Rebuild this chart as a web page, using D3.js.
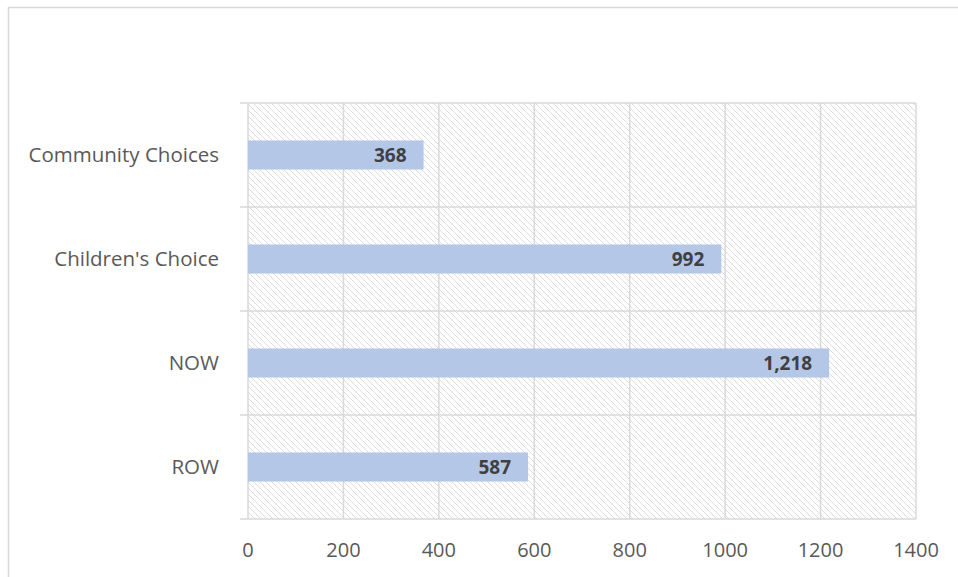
<!DOCTYPE html>
<html>
<head>
<meta charset="utf-8">
<script src="https://cdn.jsdelivr.net/npm/d3@7"></script>
<style>
  body { margin: 0; background: #fff; }
  svg { display: block; }
</style>
</head>
<body>
<svg width="958" height="577"></svg>
<script>
const categories = ["Community Choices", "Children's Choice", "NOW", "ROW"]
const values = [368, 992, 1218, 587]
const xTicks = [0, 200, 400, 600, 800, 1000, 1200, 1400]

const W = 958, H = 577
const margin = {left: 248, right: 42, top: 103, bottom: 58}
const svg = d3.select("svg")

// chart frame (runs off the right/bottom edge like the screenshot)
svg.append('rect')
  .attr('x', 8.5).attr('y', 7.5)
  .attr('width', 1200).attr('height', 1200)
  .attr('fill', '#fff')
  .attr('stroke', '#d9d9d9')
  .attr('stroke-width', 1.5)

// hatch pattern for plot background
const defs = svg.append('defs')
const pat = defs.append('pattern')
  .attr('id', 'hatch')
  .attr('patternUnits', 'userSpaceOnUse')
  .attr('width', 6).attr('height', 6)
pat.append('path')
  .attr('d', 'M-1,-1 L7,7 M-1,5 L1,7 M5,-1 L7,1')
  .attr('stroke', '#dcdcdc')
  .attr('stroke-width', 1)

const xScale = d3.scaleLinear()
  .domain([0, 1400])
  .range([margin.left, W - margin.right])

const yScale = d3.scaleBand()
  .domain(categories)
  .range([margin.top, H - margin.bottom])
  .paddingInner(0.72).paddingOuter(0.36)

const y0 = margin.top, y1 = H - margin.bottom

svg.append('rect')
  .attr('x', xScale(0)).attr('y', y0)
  .attr('width', xScale(1400) - xScale(0))
  .attr('height', y1 - y0)
  .attr('fill', 'url(#hatch)')

// vertical gridlines
svg.append('g')
  .selectAll('line')
  .data(xTicks)
  .enter()
  .append('line')
  .attr('x1', d => xScale(d)).attr('x2', d => xScale(d))
  .attr('y1', y0).attr('y2', y1)
  .attr('stroke', '#d9d9d9')
  .attr('stroke-width', 1.5)

// category boundaries (with small ticks out to the left)
const bounds = d3.range(categories.length + 1).map(i => y0 + i * (y1 - y0) / categories.length)
svg.append('g')
  .selectAll('line')
  .data(bounds)
  .enter()
  .append('line')
  .attr('x1', xScale(0) - 8).attr('x2', xScale(1400))
  .attr('y1', d => d).attr('y2', d => d)
  .attr('stroke', '#d9d9d9')
  .attr('stroke-width', 1.5)

// bars
svg.append('g')
  .selectAll('.bar')
  .data(values)
  .enter()
  .append('rect')
  .classed('bar', true)
  .attr('x', xScale(0))
  .attr('y', (d, i) => yScale(categories[i]))
  .attr('width', d => xScale(d) - xScale(0))
  .attr('height', yScale.bandwidth())
  .attr('fill', '#b4c7e7')

// data labels
svg.append('g')
  .selectAll('text')
  .data(values)
  .enter()
  .append('text')
  .attr('x', d => xScale(d) - 17)
  .attr('y', (d, i) => yScale(categories[i]) + yScale.bandwidth() / 2)
  .attr('dy', '0.36em')
  .attr('text-anchor', 'end')
  .attr('font-family', 'Open Sans, sans-serif')
  .attr('font-size', 19)
  .attr('font-weight', 'bold')
  .attr('fill', '#404040')
  .text(d => d3.format(',')(d))

// category labels
svg.append('g')
  .selectAll('text')
  .data(categories)
  .enter()
  .append('text')
  .attr('x', 219)
  .attr('y', d => yScale(d) + yScale.bandwidth() / 2)
  .attr('dy', '0.36em')
  .attr('text-anchor', 'end')
  .attr('font-family', 'Open Sans, sans-serif')
  .attr('font-size', 20.5)
  .attr('fill', '#595959')
  .text(d => d)

// x tick labels
svg.append('g')
  .selectAll('text')
  .data(xTicks)
  .enter()
  .append('text')
  .attr('x', d => xScale(d))
  .attr('y', 557)
  .attr('text-anchor', 'middle')
  .attr('font-family', 'Open Sans, sans-serif')
  .attr('font-size', 20)
  .attr('fill', '#595959')
  .text(d => d)
</script>
</body>
</html>
